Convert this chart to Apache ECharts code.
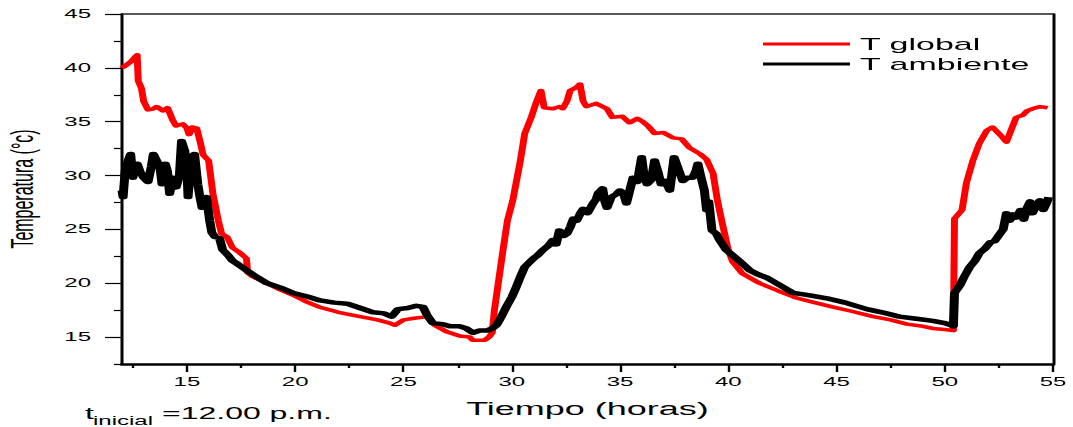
<!DOCTYPE html>
<html>
<head>
<meta charset="utf-8">
<script src="https://cdn.jsdelivr.net/npm/echarts@6/dist/echarts.min.js"></script>
<style>
  html, body { margin: 0; padding: 0; background: #fff; }
  #wrap { width: 1073px; height: 427px; overflow: hidden; }
  /* The chart is laid out at half width and stretched horizontally */
  #chart { width: 536.5px; height: 427px; transform: scaleX(2); transform-origin: 0 0; }
</style>
</head>
<body>
<div id="wrap"><div id="chart"></div></div>
<script>
// Tick positions
const xMajorTicks = [15, 20, 25, 30, 35, 40, 45, 50, 55];
const xMinorTicks = [12.5, 17.5, 22.5, 27.5, 32.5, 37.5, 42.5, 47.5, 52.5];
const yMajorTicks = [15, 20, 25, 30, 35, 40, 45];
const yMinorTicks = [12.5, 17.5, 22.5, 27.5, 32.5, 37.5, 42.5];

// T global (hours, °C)
const globalTime = [12.0, 12.23, 12.45, 12.6, 12.7, 12.75, 12.9, 13.0, 13.2, 13.45, 13.6, 13.9, 14.1, 14.35, 14.5, 14.8, 15.0, 15.1, 15.25, 15.45, 15.6, 15.75, 16.0, 16.2, 16.45, 16.6, 16.85, 17.1, 17.4, 17.75, 17.8, 18.05, 18.7, 19.3, 19.9, 20.5, 21.1, 22.0, 23.0, 23.8, 24.37, 24.6, 25.0, 25.5, 26.1, 26.45, 27.0, 27.6, 28.05, 28.2, 28.75, 28.95, 29.1, 29.2, 29.6, 29.8, 30.05, 30.4, 30.6, 30.9, 31.15, 31.35, 31.5, 31.9, 32.2, 32.35, 32.55, 32.7, 33.0, 33.15, 33.3, 33.45, 33.9, 34.4, 34.65, 35.1, 35.45, 35.8, 36.05, 36.3, 36.6, 37.0, 37.45, 37.85, 38.2, 38.7, 39.0, 39.3, 39.5, 39.7, 40.0, 40.2, 40.65, 41.45, 42.3, 43.2, 44.0, 44.8, 45.7, 46.7, 47.5, 48.25, 49.0, 49.45, 50.0, 50.4, 50.45, 50.8, 51.0, 51.3, 51.6, 51.95, 52.2, 52.6, 52.85, 53.1, 53.3, 53.6, 53.8, 54.05, 54.4, 54.75];
const globalTemp = [40.0, 40.3, 40.65, 41.0, 41.2, 38.8, 38.1, 36.9, 36.1, 36.2, 36.4, 36.0, 36.3, 35.1, 34.6, 34.8, 34.4, 33.8, 34.5, 34.4, 33.2, 31.9, 31.4, 28.3, 25.8, 24.6, 24.3, 23.3, 22.9, 22.3, 21.0, 20.6, 20.0, 19.4, 18.9, 18.3, 17.8, 17.3, 16.9, 16.6, 16.3, 16.1, 16.6, 16.75, 16.9, 16.1, 15.5, 15.1, 15.0, 14.7, 14.7, 15.0, 15.4, 17.5, 23.1, 25.8, 27.7, 31.4, 33.9, 35.4, 36.9, 37.9, 36.3, 36.2, 36.4, 36.2, 36.9, 37.9, 38.2, 38.5, 36.9, 36.4, 36.7, 36.2, 35.4, 35.5, 34.9, 35.3, 35.0, 34.6, 33.9, 34.0, 33.5, 33.4, 32.6, 32.0, 31.5, 30.2, 27.7, 25.8, 23.1, 22.0, 20.9, 20.0, 19.3, 18.6, 18.2, 17.8, 17.4, 16.9, 16.6, 16.2, 16.0, 15.8, 15.7, 15.6, 26.0, 26.8, 29.3, 31.4, 33.0, 34.2, 34.5, 33.7, 33.1, 34.4, 35.4, 35.6, 36.0, 36.2, 36.4, 36.3];

// T ambiente (hours, °C)
const ambTime = [12.0, 12.05, 12.15, 12.3, 12.4, 12.5, 12.6, 12.7, 12.85, 13.0, 13.2, 13.35, 13.45, 13.6, 13.75, 13.85, 14.0, 14.1, 14.2, 14.35, 14.5, 14.65, 14.75, 14.9, 15.0, 15.05, 15.2, 15.35, 15.5, 15.6, 15.7, 15.8, 15.9, 16.05, 16.15, 16.3, 16.5, 16.65, 16.9, 17.1, 17.4, 17.75, 18.2, 18.7, 19.3, 19.9, 20.5, 21.15, 21.8, 22.4, 23.0, 23.6, 24.1, 24.45, 24.75, 25.2, 25.6, 25.9, 26.1, 26.35, 26.8, 27.15, 27.6, 27.9, 28.2, 28.5, 28.85, 29.1, 29.3, 29.5, 29.75, 30.0, 30.2, 30.4, 30.6, 31.0, 31.2, 31.45, 31.7, 31.9, 32.05, 32.2, 32.4, 32.55, 32.7, 32.85, 33.0, 33.2, 33.3, 33.5, 33.75, 33.9, 34.0, 34.2, 34.3, 34.4, 34.6, 34.85, 35.0, 35.15, 35.3, 35.45, 35.6, 35.8, 36.0, 36.1, 36.25, 36.45, 36.6, 36.75, 36.9, 37.1, 37.3, 37.5, 37.7, 37.9, 38.1, 38.35, 38.5, 38.6, 38.75, 38.9, 39.0, 39.1, 39.25, 39.45, 39.6, 39.9, 40.2, 40.5, 41.0, 41.4, 41.8, 42.4, 43.0, 43.7, 44.55, 45.4, 46.4, 47.1, 47.9, 48.7, 49.45, 50.0, 50.3, 50.4, 50.45, 50.7, 50.9, 51.15, 51.4, 51.6, 51.85, 52.1, 52.3, 52.55, 52.7, 52.85, 53.0, 53.15, 53.3, 53.5, 53.65, 53.8, 53.95, 54.05, 54.25, 54.4, 54.55, 54.7, 54.8];
const ambTemp = [28.6, 28.0, 30.5, 31.5, 32.0, 29.8, 30.8, 31.1, 30.3, 29.8, 29.4, 30.8, 32.0, 31.4, 30.8, 29.2, 31.1, 30.4, 28.3, 29.8, 28.9, 30.0, 33.2, 32.3, 30.5, 28.0, 31.7, 32.0, 29.2, 28.0, 27.0, 27.8, 28.0, 25.8, 24.7, 24.3, 24.2, 23.1, 22.6, 22.1, 21.7, 21.2, 20.6, 20.0, 19.6, 19.1, 18.8, 18.4, 18.2, 18.1, 17.7, 17.3, 17.2, 16.9, 17.6, 17.7, 17.9, 17.8, 17.0, 16.3, 16.2, 16.0, 16.0, 15.8, 15.4, 15.6, 15.6, 15.8, 16.1, 16.8, 17.8, 18.7, 19.6, 20.6, 21.5, 22.3, 22.6, 23.1, 23.5, 24.0, 23.6, 24.9, 24.4, 24.6, 25.2, 26.0, 25.8, 26.6, 26.9, 26.5, 27.4, 27.8, 28.4, 28.8, 27.6, 27.0, 28.0, 28.3, 28.6, 28.4, 27.4, 28.6, 29.8, 29.4, 31.7, 30.2, 29.2, 29.6, 31.4, 30.4, 29.2, 29.5, 28.6, 31.7, 30.6, 29.5, 29.8, 29.8, 30.4, 31.1, 29.8, 28.6, 26.8, 27.6, 24.9, 24.6, 24.0, 23.1, 22.6, 22.1, 21.2, 20.8, 20.5, 19.8, 19.1, 18.9, 18.6, 18.2, 17.6, 17.3, 16.9, 16.7, 16.5, 16.3, 16.1, 16.0, 19.1, 19.8, 20.6, 21.5, 22.1, 22.8, 23.2, 23.8, 23.9, 24.6, 25.0, 26.5, 25.8, 26.4, 26.1, 26.8, 25.9, 27.0, 27.6, 26.5, 27.3, 27.7, 26.8, 27.4, 28.0];

const FONT = 'Liberation Sans, Arial, Helvetica, sans-serif';
const zip = (xs, ys) => xs.map((x, i) => [x, ys[i]]);

const chart = echarts.init(document.getElementById('chart'), null, {
  renderer: 'svg', width: 536.5, height: 427
});

const axisText = { color: '#000', fontFamily: FONT, fontSize: 12 };
const noSplit = { show: false };

chart.setOption({
  animation: false,
  backgroundColor: '#fff',
  grid: { left: 61, right: 10, top: 14, bottom: 63, containLabel: false, outerBoundsMode: 'none' },
  legend: {
    data: ['T global', 'T ambiente'],
    orient: 'vertical',
    left: 381.5,
    top: 34,
    padding: 0,
    itemGap: 0,
    icon: 'rect',
    itemWidth: 43.5,
    itemHeight: 3,
    textStyle: { color: '#000', fontFamily: FONT, fontSize: 17, lineHeight: 20 }
  },
  xAxis: [
    {
      type: 'value', min: 12, max: 55, position: 'bottom',
      name: 'Tiempo (horas)', nameLocation: 'middle', nameGap: 36,
      nameTextStyle: { color: '#000', fontFamily: FONT, fontSize: 18 },
      axisLine: { show: true, lineStyle: { color: '#000', width: 2.5 } },
      axisTick: { show: true, customValues: xMajorTicks, length: 8, lineStyle: { color: '#000', width: 1.2 } },
      axisLabel: { show: true, customValues: xMajorTicks, margin: 12, ...axisText },
      splitLine: noSplit
    },
    {
      type: 'value', min: 12, max: 55, position: 'bottom',
      axisLine: { show: false },
      axisTick: { show: true, customValues: xMinorTicks, length: 4, lineStyle: { color: '#000', width: 1.2 } },
      axisLabel: { show: false },
      splitLine: noSplit
    },
    {
      type: 'value', min: 12, max: 55, position: 'top',
      axisLine: { show: true, lineStyle: { color: '#222', width: 1.5 } },
      axisTick: { show: false },
      axisLabel: { show: false },
      splitLine: noSplit
    }
  ],
  yAxis: [
    {
      type: 'value', min: 12.5, max: 45, position: 'left',
      name: 'Temperatura (°c)', nameLocation: 'middle', nameGap: 42, nameRotate: 90,
      nameTextStyle: { color: '#000', fontFamily: FONT, fontSize: 16 },
      axisLine: { show: true, lineStyle: { color: '#000', width: 1.5 } },
      axisTick: { show: true, customValues: yMajorTicks, length: 8.5, lineStyle: { color: '#000', width: 1.2 } },
      axisLabel: { show: true, customValues: yMajorTicks, margin: 15.5, ...axisText },
      splitLine: noSplit
    },
    {
      type: 'value', min: 12.5, max: 45, position: 'left',
      axisLine: { show: false },
      axisTick: { show: true, customValues: yMinorTicks, length: 4, lineStyle: { color: '#000', width: 1.2 } },
      axisLabel: { show: false },
      splitLine: noSplit
    },
    {
      type: 'value', min: 12.5, max: 45, position: 'right',
      axisLine: { show: true, lineStyle: { color: '#000', width: 1.5 } },
      axisTick: { show: false },
      axisLabel: { show: false },
      splitLine: noSplit
    }
  ],
  graphic: [
    { type: 'text', x: 42.5, y: 413, style: { text: 't', font: '16px ' + FONT, fill: '#000', verticalAlign: 'middle' } },
    { type: 'text', x: 46.5, y: 421, style: { text: 'inicial', font: '12px ' + FONT, fill: '#000', verticalAlign: 'middle' } },
    { type: 'text', x: 81, y: 413, style: { text: '=12.00 p.m.', font: '16px ' + FONT, fill: '#000', verticalAlign: 'middle' } }
  ],
  series: [
    {
      name: 'T global', type: 'line', xAxisIndex: 0, yAxisIndex: 0,
      data: zip(globalTime, globalTemp),
      showSymbol: false, symbol: 'none',
      color: '#ff0000',
      lineStyle: { color: '#ff0000', width: 3.5, join: 'round' }
    },
    {
      name: 'T ambiente', type: 'line', xAxisIndex: 0, yAxisIndex: 0,
      data: zip(ambTime, ambTemp),
      showSymbol: false, symbol: 'none',
      color: '#000000',
      lineStyle: { color: '#000000', width: 4.5, join: 'round' }
    }
  ]
});
</script>
</body>
</html>
